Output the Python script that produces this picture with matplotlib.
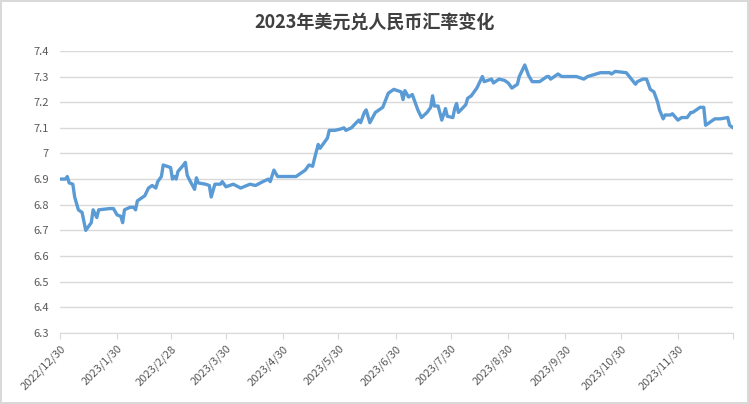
import matplotlib
matplotlib.use("Agg")
import matplotlib.pyplot as plt
import matplotlib.dates as mdates
import pandas as pd
from matplotlib.ticker import FuncFormatter

plt.rcParams['font.family'] = ['Noto Sans CJK SC', 'DejaVu Sans']

days = [0,3,4,5,7,8,10,12,14,16,17,18,20,21,27,29,31,33,34,35,38,40,41,42,46,48,50,52,53,55,56,60,61,62,63,64,67,68,69,70,73,74,75,79,81,82,84,87,88,90,94,98,103,106,110,113,114,116,118,125,128,133,135,137,138,140,141,145,146,149,152,154,155,158,162,163,165,166,168,171,175,178,181,185,186,187,189,191,194,196,199,201,202,203,205,207,209,210,213,214,215,216,220,221,223,226,229,230,234,235,238,241,243,245,248,249,252,254,256,260,264,265,266,270,272,280,284,286,293,298,299,301,307,312,313,316,318,320,322,324,325,327,328,331,332,335,337,340,342,343,347,349,350,352,355,358,362,363,365]
rates = [6.90,6.90,6.91,6.885,6.88,6.83,6.78,6.77,6.70,6.72,6.73,6.78,6.75,6.78,6.785,6.785,6.76,6.755,6.73,6.78,6.79,6.79,6.78,6.815,6.835,6.865,6.875,6.865,6.89,6.91,6.955,6.945,6.90,6.91,6.90,6.93,6.955,6.965,6.915,6.90,6.86,6.905,6.885,6.88,6.875,6.83,6.88,6.88,6.89,6.87,6.88,6.865,6.88,6.875,6.89,6.90,6.89,6.935,6.91,6.91,6.91,6.935,6.955,6.95,6.98,7.035,7.02,7.06,7.09,7.09,7.095,7.10,7.09,7.10,7.13,7.12,7.16,7.17,7.12,7.16,7.18,7.235,7.25,7.24,7.21,7.245,7.22,7.23,7.17,7.14,7.16,7.18,7.225,7.185,7.185,7.13,7.175,7.145,7.14,7.175,7.195,7.16,7.19,7.215,7.225,7.255,7.30,7.28,7.29,7.275,7.29,7.285,7.275,7.255,7.27,7.30,7.345,7.305,7.28,7.28,7.30,7.30,7.29,7.31,7.30,7.30,7.29,7.30,7.315,7.315,7.31,7.32,7.315,7.27,7.28,7.29,7.29,7.25,7.24,7.20,7.17,7.135,7.15,7.15,7.155,7.13,7.14,7.14,7.16,7.16,7.18,7.18,7.11,7.12,7.135,7.135,7.14,7.11,7.10]
tick_labels = ['2022/12/30','2023/1/30','2023/2/28','2023/3/30','2023/4/30','2023/5/30',
               '2023/6/30','2023/7/30','2023/8/30','2023/9/30','2023/10/30','2023/11/30']
title = '2023年美元兑人民币汇率变化'

start = pd.Timestamp('2022-12-30')
dates = start + pd.to_timedelta(days, unit='D')
tick_dates = [pd.Timestamp(t.replace('/', '-')) for t in tick_labels]

fig = plt.figure(figsize=(7.49, 4.04), dpi=100)
fig.patch.set_edgecolor('#d9d9d9'); fig.patch.set_linewidth(1.5)
ax = fig.add_axes([0.080, 0.176, 0.899, 0.698])
ax.plot(dates, rates, color='#5b9bd5', lw=2.4, solid_joinstyle='round')
ax.set_ylim(6.3, 7.4)
ax.set_yticks([6.3 + 0.1*i for i in range(12)])
ax.yaxis.set_major_formatter(FuncFormatter(lambda v, p: f'{v:.1f}'.rstrip('0').rstrip('.')))
ax.set_xlim(start, start + pd.Timedelta(days=365))
ax.set_xticks(tick_dates + [start + pd.Timedelta(days=365)])
ax.set_xticklabels(tick_labels + [''], rotation=45, ha='right', rotation_mode='anchor')
ax.grid(axis='y', color='#d9d9d9', lw=1)
ax.set_axisbelow(True)
for s in ['left','top','right']:
    ax.spines[s].set_visible(False)
ax.spines['bottom'].set_color('#d9d9d9')
ax.tick_params(axis='y', length=0, labelsize=8, colors='#595959', pad=8)
ax.tick_params(axis='x', length=4, color='#d9d9d9', labelsize=8, labelcolor='#595959')
fig.suptitle(title, y=0.965, fontsize=13, fontweight='bold', color='#404040')
fig.savefig('out.png', dpi=100)
